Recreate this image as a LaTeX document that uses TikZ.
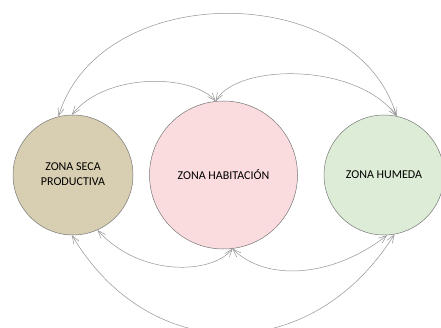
\documentclass[tikz,border=0pt]{standalone}
\usepackage{fontspec}
\setmainfont{Carlito}
\usepackage{tikz}
\usetikzlibrary{positioning,arrows.meta}
\definecolor{secacolor}{RGB}{216,206,177}
\definecolor{habcolor}{RGB}{250,220,223}
\definecolor{humcolor}{RGB}{221,236,214}
\definecolor{edgecolor}{RGB}{120,120,120}
\tikzset{
  zona/.style={
      circle,
      draw=edgecolor,
      line width=0.5pt,
      align=center,
      inner sep=0pt,
      font=\fontsize{12}{15}\selectfont,
  },
  relacion/.style={
      draw=edgecolor!80,
      line width=0.5pt,
      {Straight Barb[length=8pt,width=6pt]}-{Straight Barb[length=8pt,width=6pt]},
  },
}

\begin{document}
\begin{tikzpicture}[x=1pt,y=1pt]
  \useasboundingbox (0,0) rectangle (441,327);

  \node[zona, fill=secacolor, minimum size=120pt] (seca) at (73,152) {\raisebox{-5pt}{\begin{tabular}{@{}c@{}}ZONA SECA\\PRODUCTIVA\end{tabular}}};
  \node[zona, fill=habcolor, minimum size=148pt, right=16pt of seca] (habitacion) {ZONA HABITACIÓN};
  \node[zona, fill=humcolor, minimum size=120pt, right=26pt of habitacion] (humeda) {ZONA HUMEDA};

  % arriba
  \draw[relacion] (seca.104) .. controls +(42,138) and +(-40,136) .. (humeda.78);
  \draw[relacion] (seca.91) .. controls +(33,42) and +(-25,28) .. (habitacion.96);
  \draw[relacion] (habitacion.96) .. controls +(21,38) and +(-40,54) .. (humeda.78);

  % abajo
  \draw[relacion] (seca.269) .. controls +(78,-131) and +(-83,-132) .. (humeda.280);
  \draw[relacion] (seca.294) .. controls +(42,-47) and +(-21,-26) .. (habitacion.277);
  \draw[relacion] (habitacion.277) .. controls +(33,-33) and +(-55,-43) .. (humeda.273);
\end{tikzpicture}
\end{document}
